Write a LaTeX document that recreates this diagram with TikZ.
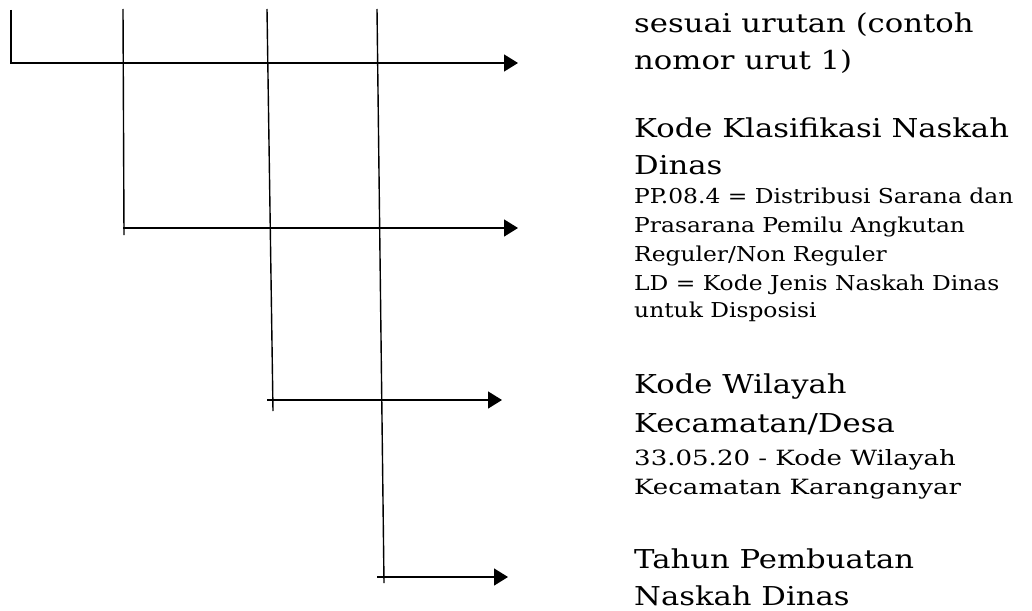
\documentclass[tikz,border=0pt]{standalone}
\usepackage{fontspec}
\setmainfont{DejaVu Serif}[FakeStretch=1.18]
\newfontfamily\smallfont{DejaVu Serif}[FakeStretch=1.14]
\newfontfamily\midfont{DejaVu Serif}[FakeStretch=1.24]
\usetikzlibrary{arrows.meta}
\tikzset{
  conn/.style={line width=1.4pt, black},
  arr/.style={conn, -{Triangle[length=14pt,width=17pt]}},
  big/.style={anchor=base west, inner sep=0pt, font=\fontsize{26}{30}\selectfont},
  small/.style={anchor=base west, inner sep=0pt, font=\smallfont\fontsize{20.5}{24}\selectfont},
  mid/.style={anchor=base west, inner sep=0pt, font=\midfont\fontsize{21}{25}\selectfont},
}
\begin{document}
\begin{tikzpicture}[x=1pt,y=-1pt]
\useasboundingbox (0,0) rectangle (1032,610);
% coordinates
\coordinate (a0) at (11,10);
\coordinate (a1) at (518,63);
\coordinate (v1t) at (123,9);
\coordinate (v1b) at (124,235);
\coordinate (h2s) at (123,228);
\coordinate (h2e) at (518,228);
\coordinate (v2t) at (267,9);
\coordinate (v2b) at (273,411);
\coordinate (h3s) at (267,400);
\coordinate (h3e) at (502,400);
\coordinate (v3t) at (377,9);
\coordinate (v3b) at (384,583);
\coordinate (h4s) at (377,577);
\coordinate (h4e) at (508,577);
% texts
\node[big] (t0) at (634,33) {sesuai urutan (contoh};
\node[big] (t1) at (634,70) {nomor urut 1)};
\node[big] (k1) at (634,137) {Kode Klasifikasi Naskah};
\node[big] (k2) at (634,174) {Dinas};
\node[small] (k3) at (634,203) {PP.08.4 = Distribusi Sarana dan};
\node[small] (k4) at (634,232) {Prasarana Pemilu Angkutan};
\node[small] (k5) at (634,261) {Reguler/Non Reguler};
\node[small] (k6) at (634,290) {LD = Kode Jenis Naskah Dinas};
\node[small] (k7) at (634,317) {untuk Disposisi};
\node[big] (w1) at (634,393) {Kode Wilayah};
\node[big] (w2) at (634,432) {Kecamatan/Desa};
\node[mid] (w3) at (634,465) {33.05.20 - Kode Wilayah};
\node[mid] (w4) at (634,494) {Kecamatan Karanganyar};
\node[big] (y1) at (634,568) {Tahun Pembuatan};
\node[big] (y2) at (634,605) {Naskah Dinas};
% connectors
\draw[arr] (a0) |- (a1);
\draw[conn] (v1t) -- (v1b);
\draw[arr] (h2s) -- (h2e);
\draw[conn] (v2t) -- (v2b);
\draw[arr] (h3s) -- (h3e);
\draw[conn] (v3t) -- (v3b);
\draw[arr] (h4s) -- (h4e);
\end{tikzpicture}
\end{document}
